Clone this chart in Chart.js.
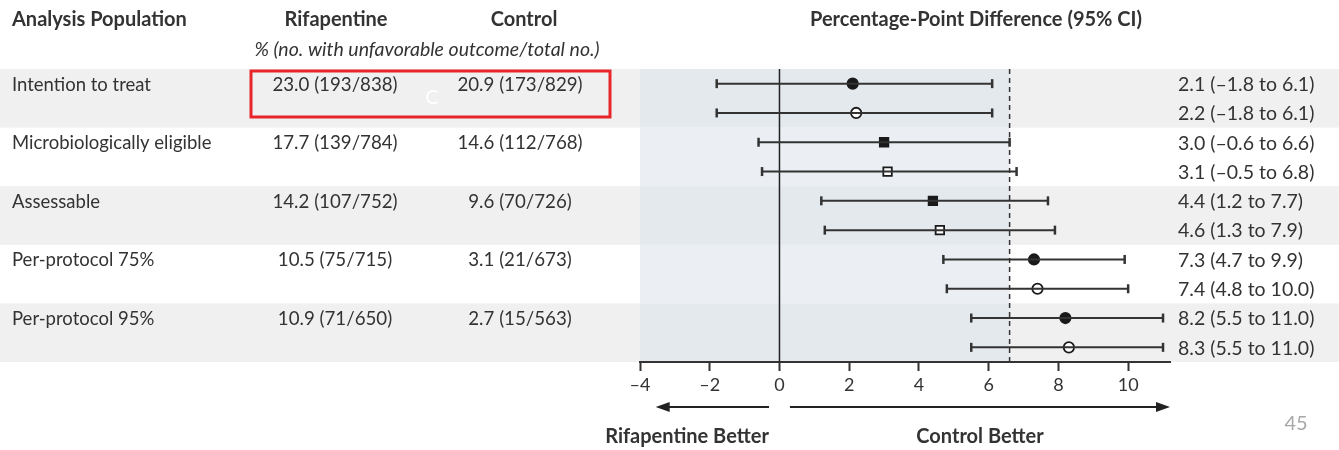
<!DOCTYPE html>
<html>
<head>
<meta charset="utf-8">
<script src="https://cdn.jsdelivr.net/npm/chart.js@4"></script>
<style>
  body { margin: 0; background: #fff; }
  #wrap { width: 1339px; height: 450px; position: relative; }
</style>
</head>
<body>
<div id="wrap"><canvas id="forest"></canvas></div>
<script>
// table rows
var populations = ['Intention to treat', 'Microbiologically eligible', 'Assessable', 'Per-protocol 75%', 'Per-protocol 95%'];
var rifapentine = ['23.0 (193/838)', '17.7 (139/784)', '14.2 (107/752)', '10.5 (75/715)', '10.9 (71/650)'];
var control = ['20.9 (173/829)', '14.6 (112/768)', '9.6 (70/726)', '3.1 (21/673)', '2.7 (15/563)'];

// two estimates per population (filled, then open marker)
var estimates = [2.1, 2.2, 3.0, 3.1, 4.4, 4.6, 7.3, 7.4, 8.2, 8.3];
var lower = [-1.8, -1.8, -0.6, -0.5, 1.2, 1.3, 4.7, 4.8, 5.5, 5.5];
var upper = [6.1, 6.1, 6.6, 6.8, 7.7, 7.9, 9.9, 10.0, 11.0, 11.0];
var markers = ['circle', 'circle', 'rect', 'rect', 'rect', 'rect', 'circle', 'circle', 'circle', 'circle'];

var xTicks = [-4, -2, 0, 2, 4, 6, 8, 10];
var margin = 6.6;

var FONT = 'Lato';
var INK = '#333';

function dash(v) {
  return String(v).replace('-', '\u2013');
}
function ciText(i) {
  return estimates[i].toFixed(1) + ' (' + dash(lower[i].toFixed(1)) + ' to ' + dash(upper[i].toFixed(1)) + ')';
}

var datasets = [];

// CI whiskers
for (var i = 0; i < estimates.length; i++) {
  datasets.push({
    data: [{x: lower[i], y: i + 0.5}, {x: upper[i], y: i + 0.5}],
    showLine: true, borderColor: INK, borderWidth: 2, pointRadius: 0
  });
}
// caps
var caps = [];
for (var i = 0; i < estimates.length; i++) {
  caps.push({x: lower[i], y: i + 0.5});
  caps.push({x: upper[i], y: i + 0.5});
}
datasets.push({
  data: caps, pointStyle: 'line', rotation: 90, pointRadius: 4.5,
  borderColor: INK, borderWidth: 2.5
});
// zero line and margin line
datasets.push({
  data: [{x: 0, y: 0}, {x: 0, y: 10}],
  showLine: true, borderColor: '#222', borderWidth: 1.5, pointRadius: 0
});
datasets.push({
  data: [{x: margin, y: 0}, {x: margin, y: 10}],
  showLine: true, borderColor: '#333', borderWidth: 1.5, borderDash: [5, 4], pointRadius: 0
});
// point estimates
datasets.push({
  data: estimates.map(function (v, i) { return {x: v, y: i + 0.5}; }),
  pointStyle: markers,
  pointRadius: markers.map(function (m) { return m === 'rect' ? 6 : 5.2; }),
  backgroundColor: estimates.map(function (v, i) { return i % 2 === 0 ? '#1a1a1a' : '#fff'; }),
  borderColor: '#1a1a1a', borderWidth: 1.8
});

var backdrop = {
  id: 'backdrop',
  beforeDraw: function (chart) {
    var ctx = chart.ctx, xs = chart.scales.x, ys = chart.scales.y;
    ctx.save();
    ctx.fillStyle = '#fff';
    ctx.fillRect(0, 0, chart.width, chart.height);
    var x0 = xs.getPixelForValue(-4), x1 = xs.getPixelForValue(margin);
    for (var r = 0; r < populations.length; r++) {
      var top = ys.getPixelForValue(r * 2), bot = ys.getPixelForValue(r * 2 + 2);
      if (r % 2 === 0) {
        ctx.fillStyle = '#f0f0f0';
        ctx.fillRect(0, top, chart.width, bot - top);
      }
      ctx.fillStyle = r % 2 === 0 ? '#e4e9ee' : '#ebeff3';
      ctx.fillRect(x0, top, x1 - x0, bot - top);
    }
    ctx.restore();
  },
  afterDraw: function (chart) {
    var ctx = chart.ctx, xs = chart.scales.x, ys = chart.scales.y;
    ctx.save();
    ctx.fillStyle = INK;
    ctx.textBaseline = 'middle';

    // headers
    ctx.font = 'bold 20px ' + FONT;
    ctx.textAlign = 'left';
    ctx.fillText('Analysis Population', 12, 20);
    ctx.textAlign = 'center';
    ctx.fillText('Rifapentine', 336, 20);
    ctx.fillText('Control', 524, 20);
    ctx.fillText('Percentage-Point Difference (95% CI)', 976, 20);
    ctx.font = 'italic 19.5px ' + FONT;
    ctx.fillText('% (no. with unfavorable outcome/total no.)', 427, 50);

    // table body
    for (var r = 0; r < populations.length; r++) {
      var y = ys.getPixelForValue(r * 2 + 0.5) + 1;
      ctx.font = '18.5px ' + FONT;
      ctx.textAlign = 'left';
      ctx.fillText(populations[r], 12, y);
      ctx.textAlign = 'center';
      ctx.font = '18.7px ' + FONT;
      ctx.fillText(rifapentine[r], 335, y);
      ctx.fillText(control[r], 520, y);
    }
    ctx.textAlign = 'left';
    ctx.font = '19.5px ' + FONT;
    for (var i = 0; i < estimates.length; i++) {
      ctx.fillText(ciText(i), 1178, ys.getPixelForValue(i + 0.5) + 1);
    }

    // direction arrows
    var ay = 407;
    ctx.strokeStyle = '#222';
    ctx.fillStyle = '#222';
    ctx.lineWidth = 2;
    var la = xs.getPixelForValue(-0.3), lb = xs.getPixelForValue(-3.55);
    var ra = xs.getPixelForValue(0.3), rb = chart.chartArea.right;
    ctx.beginPath();
    ctx.moveTo(la, ay); ctx.lineTo(lb + 10, ay);
    ctx.moveTo(ra, ay); ctx.lineTo(rb - 10, ay);
    ctx.stroke();
    ctx.beginPath();
    ctx.moveTo(lb, ay); ctx.lineTo(lb + 14, ay - 5); ctx.lineTo(lb + 14, ay + 5); ctx.closePath();
    ctx.moveTo(rb, ay); ctx.lineTo(rb - 14, ay - 5); ctx.lineTo(rb - 14, ay + 5); ctx.closePath();
    ctx.fill();

    ctx.fillStyle = INK;
    ctx.font = 'bold 20px ' + FONT;
    ctx.textAlign = 'center';
    ctx.fillText('Rifapentine Better', 687, 437);
    ctx.fillText('Control Better', 980, 437);

    // slide number
    ctx.fillStyle = '#a8a8a8';
    ctx.font = '20px ' + FONT;
    ctx.fillText('45', 1296, 424);

    // highlight box
    ctx.strokeStyle = '#e8262a';
    ctx.lineWidth = 3;
    ctx.strokeRect(251, 71, 359, 46);
    ctx.fillStyle = '#fff';
    ctx.font = '20px ' + FONT;
    ctx.fillText('C', 432, 98);
    ctx.restore();
  }
};

new Chart(document.getElementById('forest'), {
  type: 'scatter',
  data: { datasets: datasets },
  options: {
    responsive: true,
    maintainAspectRatio: false,
    animation: false,
    layout: { padding: { left: 640, right: 169, top: 69, bottom: 48 } },
    plugins: { legend: { display: false }, tooltip: { enabled: false } },
    scales: {
      x: {
        type: 'linear', min: -4, max: 11.2,
        afterFit: function (scale) { scale.height = 40; },
        afterBuildTicks: function (scale) {
          scale.ticks = xTicks.map(function (v) { return {value: v}; });
        },
        ticks: {
          color: INK, padding: 3,
          font: { family: FONT, size: 18 },
          callback: function (v) { return dash(v); }
        },
        grid: { drawOnChartArea: false, drawTicks: true, tickLength: 9, tickWidth: 2, color: INK },
        border: { display: true, color: INK, width: 2 }
      },
      y: { type: 'linear', min: 0, max: 10, reverse: true, display: false }
    }
  },
  plugins: [backdrop]
});
</script>
</body>
</html>
